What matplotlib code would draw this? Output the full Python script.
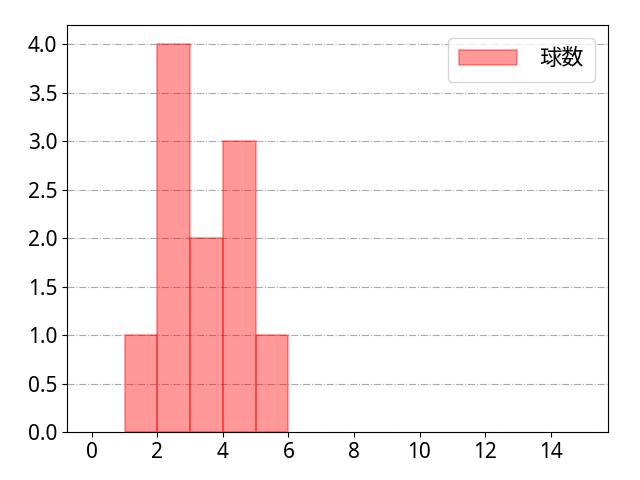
import matplotlib
matplotlib.use('Agg')
import matplotlib.pyplot as plt
import numpy as np

plt.rcParams['font.family'] = ['Noto Sans', 'Noto Sans CJK JP', 'DejaVu Sans']

# PITCH COUNT VALUES (ONE ENTRY PER OBSERVATION)
pitch_values = [1, 2, 2, 2, 2, 3, 3, 4, 4, 4, 5]
bin_edges = list(range(0, 16))
legend_label = '球数'

fig, ax = plt.subplots(figsize=(6.4, 4.8), dpi=100)
counts, edges, patches = ax.hist(pitch_values, bins=bin_edges, color='red', alpha=0.4,
                                 edgecolor='red', linewidth=1.2)
# HIDE OUTLINE OF EMPTY BINS
for c, p in zip(counts, patches):
    if c == 0:
        p.set_linewidth(0)
visible = [p for c, p in zip(counts, patches) if c > 0]

ax.set_xticks(np.arange(0, 16, 2))
ax.set_yticks(np.arange(0, 4.01, 0.5))
ax.yaxis.set_major_formatter(matplotlib.ticker.FormatStrFormatter('%.1f'))
ax.tick_params(labelsize=15)
ax.grid(axis='y', linestyle='-.', color='#aaaaaa', linewidth=0.8)
ax.set_axisbelow(True)

ax.legend([visible[0]], [legend_label], loc='upper right', fontsize=16,
          handlelength=2.6, handletextpad=1.0, borderpad=0.5, borderaxespad=0.6)

plt.subplots_adjust(left=0.105, right=0.95, top=0.948, bottom=0.1)
plt.savefig('out.png', dpi=100)
